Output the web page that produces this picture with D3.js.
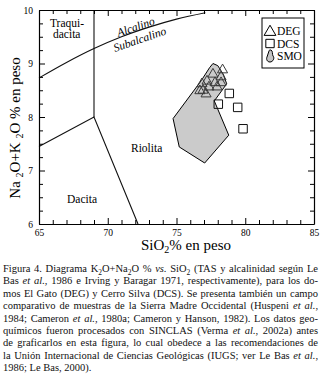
<!DOCTYPE html>
<html>
<head>
<meta charset="utf-8">
<script src="https://cdn.jsdelivr.net/npm/d3@7"></script>
<style>
body { margin: 0; background: #fff; }
svg { display: block; font-family: "Liberation Serif", "Times New Roman", serif; }
</style>
</head>
<body>
<script>
// TAS diagram (alkalis vs silica) for DEG / DCS domes + SMO field

// DEG samples (triangles)
var degSiO2 = [78.35, 77.65, 78.24, 77.22, 77.8, 78.24, 76.85, 77.36, 77.95, 76.93, 76.7, 77.15];
var degAlk  = [8.88, 8.80, 8.75, 8.67, 8.64, 8.64, 8.62, 8.56, 8.56, 8.50, 8.49, 8.43];

// DCS samples (squares)
var dcsSiO2 = [78.84, 78.04, 79.45, 79.84];
var dcsAlk  = [8.44, 8.24, 8.18, 7.78];

// SMO comparative field (outline)
var smoSiO2 = [77.65, 78.0, 78.4, 78.65, 77.75, 78.8, 77.05, 75.2, 74.75, 76.8, 77.4];
var smoAlk  = [9.0, 8.96, 8.8, 8.62, 8.3, 7.66, 7.14, 7.44, 7.97, 8.68, 8.92];

// Irvine & Baragar alcalino / subalcalino line
var ibSiO2 = [65, 67, 69, 71, 73, 75, 77.1];
var ibAlk  = [8.73, 9.02, 9.28, 9.5, 9.68, 9.83, 9.95];

// TAS boundaries (Le Bas et al.)
var daciteSiO2 = [65, 69, 72.2];
var daciteAlk  = [7.45, 8, 6];
var rhyoSiO2 = [69, 69];
var rhyoAlk  = [8, 10];

// ticks
var xTicks = d3.range(65, 86, 1);
var yTicks = d3.range(6, 10.001, 0.25);

var legendNames = ["DEG", "DCS", "SMO"];

var captionLines = [
  "Figura 4. Diagrama K_2O+Na_2O % *vs.* SiO_2 (TAS y alcalinidad según Le",
  "Bas *et al.*, 1986 e Irving y Baragar 1971, respectivamente), para los do-",
  "mos El Gato (DEG) y Cerro Silva (DCS). Se presenta también un campo",
  "comparativo de muestras de la Sierra Madre Occidental (Huspeni *et al.*,",
  "1984; Cameron *et al.*, 1980a; Cameron y Hanson, 1982). Los datos geo-",
  "químicos fueron procesados con SINCLAS (Verma *et al.*, 2002a) antes",
  "de graficarlos en esta figura, lo cual obedece a las recomendaciones de",
  "la Unión Internacional de Ciencias Geológicas (IUGS; ver Le Bas *et al.*,",
  "1986; Le Bas, 2000)."
];

var W = 322, H = 380;
var plot = {left: 39, right: 314, top: 10, bottom: 224};

var svg = d3.select("body").append("svg")
    .attr("width", W)
    .attr("height", H);

var x = d3.scaleLinear().domain([65, 85]).range([plot.left, plot.right]);
var y = d3.scaleLinear().domain([6, 10]).range([plot.bottom, plot.top]);

// writes text with _2 subscripts and *italic* pieces as tspans
function richText(sel, str, subSize, subShift) {
  var parts = str.split(/(\*[^*]+\*|_\d)/).filter(function(p) { return p.length; });
  var shifted = false;
  parts.forEach(function(p) {
    var ts = sel.append("tspan");
    if (shifted) { ts.attr("dy", -subShift); shifted = false; }
    if (p[0] === "*") {
      ts.attr("font-style", "italic").text(p.slice(1, -1));
    } else if (p[0] === "_") {
      ts.attr("font-size", subSize).attr("dy", subShift).text(p.slice(1));
      shifted = true;
    } else {
      ts.text(p);
    }
  });
  return sel;
}

//SMO field
var smo = smoSiO2.map(function(d, i) { return [d, smoAlk[i]]; });
svg.append("path")
   .datum(smo)
   .attr("d", d3.line()
      .x(function(d) { return x(d[0]); })
      .y(function(d) { return y(d[1]); })
      .curve(d3.curveLinearClosed))
   .attr("fill", "#cbcbcb")
   .attr("stroke", "#000")
   .attr("stroke-width", 1);

//boundary lines
var lineGen = d3.line()
    .x(function(d) { return x(d[0]); })
    .y(function(d) { return y(d[1]); });

svg.append("path")
   .datum(daciteSiO2.map(function(d, i) { return [d, daciteAlk[i]]; }))
   .attr("d", lineGen)
   .attr("fill", "none").attr("stroke", "#111").attr("stroke-width", 1.1);

svg.append("path")
   .datum(rhyoSiO2.map(function(d, i) { return [d, rhyoAlk[i]]; }))
   .attr("d", lineGen)
   .attr("fill", "none").attr("stroke", "#111").attr("stroke-width", 1.1);

svg.append("path")
   .datum(ibSiO2.map(function(d, i) { return [d, ibAlk[i]]; }))
   .attr("d", lineGen.curve(d3.curveMonotoneX))
   .attr("fill", "none").attr("stroke", "#111").attr("stroke-width", 1.1);

//DCS squares
svg.selectAll(".dcs")
   .data(dcsSiO2)
   .enter()
   .append("path")
   .attr("class", "dcs")
   .attr("d", d3.symbol().type(d3.symbolSquare).size(72))
   .attr("transform", function(d, i) { return "translate(" + x(d) + "," + y(dcsAlk[i]) + ")"; })
   .attr("fill", "none")
   .attr("stroke", "#111")
   .attr("stroke-width", 1);

//DEG triangles
svg.selectAll(".deg")
   .data(degSiO2)
   .enter()
   .append("path")
   .attr("class", "deg")
   .attr("d", d3.symbol().type(d3.symbolTriangle).size(44))
   .attr("transform", function(d, i) { return "translate(" + x(d) + "," + y(degAlk[i]) + ")"; })
   .attr("fill", "none")
   .attr("stroke", "#3a3a3a")
   .attr("stroke-width", 1);

//axes, ticks pointing inward
function styleAxis(g) {
  g.select(".domain").attr("stroke", "#000").attr("stroke-width", 1.2);
  g.selectAll(".tick line").attr("stroke", "#000").attr("stroke-width", 1);
  g.selectAll(".tick text")
   .attr("font-family", "Liberation Serif, serif")
   .attr("font-size", 9.5)
   .attr("fill", "#000");
}

var gx = svg.append("g")
   .attr("transform", "translate(0," + plot.bottom + ")")
   .call(d3.axisBottom(x).tickValues(xTicks).tickSize(-4).tickSizeOuter(0).tickPadding(5)
      .tickFormat(function(d) { return d % 5 === 0 ? d : ""; }))
   .call(styleAxis);
gx.selectAll(".tick line").attr("y2", function(d) { return d % 5 === 0 ? -6 : -4; });

var gxTop = svg.append("g")
   .attr("transform", "translate(0," + plot.top + ")")
   .call(d3.axisTop(x).tickValues(xTicks).tickSize(-4).tickSizeOuter(0).tickFormat(""))
   .call(styleAxis);
gxTop.selectAll(".tick line").attr("y2", function(d) { return d % 5 === 0 ? 6 : 4; });

var gy = svg.append("g")
   .attr("transform", "translate(" + plot.left + ",0)")
   .call(d3.axisLeft(y).tickValues(yTicks).tickSize(-4).tickSizeOuter(0).tickPadding(6)
      .tickFormat(function(d) { return Number.isInteger(d) ? d : ""; }))
   .call(styleAxis);
gy.selectAll(".tick line").attr("x2", function(d) { return Number.isInteger(d) ? 6 : 4; });

var gyRight = svg.append("g")
   .attr("transform", "translate(" + plot.right + ",0)")
   .call(d3.axisRight(y).tickValues(yTicks).tickSize(-4).tickSizeOuter(0).tickFormat(""))
   .call(styleAxis);
gyRight.selectAll(".tick line").attr("x2", function(d) { return Number.isInteger(d) ? -6 : -4; });

//field names
var lbl = svg.append("g").attr("font-size", 11.5).attr("fill", "#000");
lbl.append("text").attr("x", 50).attr("y", 27).text("Traqui-");
lbl.append("text").attr("x", 53).attr("y", 37.5).text("dacita");
lbl.append("text").attr("x", 131).attr("y", 151.5).text("Riolita");
lbl.append("text").attr("x", 67).attr("y", 203).text("Dacita");

lbl.append("text")
   .attr("transform", "translate(137,30.5) rotate(-19)")
   .attr("text-anchor", "middle")
   .attr("font-style", "italic")
   .attr("font-size", 11.5)
   .text("Alcalino");
lbl.append("text")
   .attr("transform", "translate(141,43) rotate(-19)")
   .attr("text-anchor", "middle")
   .attr("font-style", "italic")
   .attr("font-size", 11.5)
   .text("Subalcalino");

//axis titles
richText(svg.append("text")
   .attr("x", 186).attr("y", 250)
   .attr("text-anchor", "middle")
   .attr("font-size", 15), "SiO_2% en peso", 10, 3);

richText(svg.append("text")
   .attr("transform", "translate(20,128) rotate(-90)")
   .attr("text-anchor", "middle")
   .attr("font-size", 15), "Na _2O+K _2O % en peso", 10, 3);

//legend
var leg = svg.append("g");
leg.append("rect")
   .attr("x", 262).attr("y", 18).attr("width", 42).attr("height", 50)
   .attr("fill", "#fff").attr("stroke", "#000").attr("stroke-width", 1);

var legY = [31, 43.5, 56];
leg.append("path")
   .attr("d", d3.symbol().type(d3.symbolTriangle).size(60))
   .attr("transform", "translate(270," + (legY[0] + 1) + ")")
   .attr("fill", "none").attr("stroke", "#000").attr("stroke-width", 1);
leg.append("path")
   .attr("d", d3.symbol().type(d3.symbolSquare).size(70))
   .attr("transform", "translate(270," + legY[1] + ")")
   .attr("fill", "none").attr("stroke", "#000").attr("stroke-width", 1);
leg.append("path")
   .attr("d", "M1,-6 C3,-5 2,-2 3,0 C5,2 3,6 0,6 C-3,6 -4,3 -3,1 C-2,-1 -2,-3 -1,-5 C-1,-6 0,-6 1,-6 Z")
   .attr("transform", "translate(270," + legY[2] + ")")
   .attr("fill", "#c4c4c4").attr("stroke", "#000").attr("stroke-width", 1);

leg.selectAll(".legtxt")
   .data(legendNames)
   .enter()
   .append("text")
   .attr("class", "legtxt")
   .attr("x", 277)
   .attr("y", function(d, i) { return legY[i] + 4; })
   .attr("font-size", 11.5)
   .text(function(d) { return d; });

//caption, each line justified to the column width
var cap = svg.append("g").attr("font-size", 10.5).attr("fill", "#111");
captionLines.forEach(function(line, i) {
  var t = cap.append("text").attr("x", 3).attr("y", 272 + i * 12.4);
  richText(t, line, 7.5, 2.5);
  if (i < captionLines.length - 1) {
    var w = t.node().getComputedTextLength();
    var n = (line.match(/ /g) || []).length;
    t.attr("word-spacing", (315 - w) / n);
  }
});
</script>
</body>
</html>
